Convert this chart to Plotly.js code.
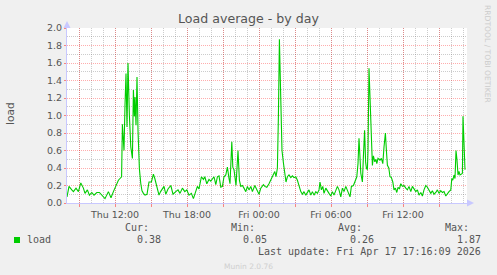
<!DOCTYPE html>
<html>
<head>
<meta charset="utf-8">
<script src="https://cdn.plot.ly/plotly-3.0.1.min.js"></script>
<style>
html,body{margin:0;padding:0;background:#f0f0f0;}
#chart{width:497px;height:275px;}
</style>
</head>
<body>
<div id="chart"></div>
<script>
// ---- data ----
// minutes since Thu 2026-04-16 08:00 (5-minute samples)
const minutes = [
0,10,24,32,45,57,69,82,90,102,112,124,135,149,162,174,190,207,220,232,245,257,265,273,277,285,290,295,300,305,312,319,327,332,337,340,345,350,355,362,369,375,382,390,400,410,422,432,439,449,460,468,477,
485,494,505,519,530,544,555,565,577,589,599,610,622,632,644,652,660,672,682,689,699,710,719,727,735,744,752,760,769,777,785,794,802,810,815,824,829,835,840,845,855,862,869,877,885,894,902,910,919,927,939,949,960,969,982,989,999,
1010,1022,1030,1039,1045,1052,1057,1062,1069,1075,1082,1089,1095,1102,1110,1119,1127,1135,1144,1152,1160,1169,1177,1185,1194,1202,1210,1219,1227,1235,1244,1252,1260,1265,1272,1279,1285,1294,1302,1310,1319,1327,1335,1344,1352,1360,1369,1377,1385,1394,1402,1410,1415,1422,1432,1439,1449,1455,1460,1469,1477,1482,1488,1493,1497,1502,1505,1510,1517,1522,1527,1532,1539,1545,1549,1555,1565,1572,1579,1585,1592,1597,1602,1609,1615,1622,1629,1635,1642,1649,1655,1662,1669,1677,1685,1694,1702,1710,1719,1727,1735,1744,1752,1760,1769,1777,1785,1794,1802,1810,1819,1827,1835,1844,1852,1860,1869,1877,1885,1894,1902,1910,1919,1924,1929,1935,1940,1945,1950,1955,1960,1965,1972,1977,1980,1985,1990
];
const load = [
0.07,0.19,0.15,0.13,0.17,0.13,0.23,0.17,0.11,0.15,0.09,0.12,0.09,0.12,0.12,0.09,0.05,0.13,0.06,0.13,0.20,0.26,0.28,0.30,0.90,0.60,1.12,1.48,0.87,1.60,1.00,0.64,0.51,1.29,0.99,1.21,0.89,1.44,0.83,0.39,0.22,0.14,0.11,0.09,0.10,0.24,0.24,0.33,0.28,0.18,0.09,0.13,0.17,
0.19,0.10,0.16,0.20,0.10,0.13,0.15,0.11,0.17,0.13,0.15,0.09,0.11,0.05,0.15,0.19,0.16,0.30,0.27,0.30,0.22,0.27,0.25,0.28,0.30,0.21,0.30,0.31,0.18,0.19,0.30,0.32,0.41,0.28,0.22,0.70,0.41,0.38,0.30,0.20,0.60,0.26,0.19,0.20,0.17,0.13,0.19,0.15,0.19,0.13,0.20,0.15,0.10,0.17,0.21,0.19,0.18,
0.22,0.28,0.32,0.36,0.30,0.40,0.99,1.87,1.18,0.60,0.46,0.34,0.24,0.30,0.32,0.29,0.31,0.29,0.30,0.26,0.20,0.13,0.10,0.13,0.09,0.12,0.15,0.09,0.13,0.09,0.13,0.11,0.15,0.24,0.15,0.19,0.11,0.17,0.13,0.11,0.08,0.13,0.09,0.15,0.19,0.15,0.07,0.17,0.13,0.19,0.15,0.09,0.07,0.19,0.20,0.24,0.30,0.45,0.74,0.34,0.24,0.53,0.83,0.47,0.40,0.38,0.60,1.54,0.99,0.60,0.43,0.54,0.47,0.50,0.45,0.51,0.49,0.51,0.45,0.64,0.80,0.60,0.43,0.40,0.30,0.29,0.24,0.15,0.17,0.12,0.18,0.16,0.22,0.19,0.20,0.17,0.15,0.19,0.13,0.19,0.16,0.13,0.15,0.09,0.12,0.08,0.15,0.20,0.18,0.15,0.11,0.14,0.10,0.12,0.15,0.11,0.14,0.12,0.13,0.08,0.11,0.13,0.15,0.28,0.26,0.32,0.28,0.60,0.49,0.32,0.36,0.32,0.33,0.34,0.99,0.72,0.38
];
const seriesName = "load";
const startTime = Date.UTC(2026, 3, 16, 8, 0, 0);   // Thu 08:00
const endTime   = Date.UTC(2026, 3, 17, 17, 20, 0); // Fri 17:20
const tickLabels = ["", "Thu 12:00", "", "Thu 18:00", "", "Fri 00:00", "", "Fri 06:00", "", "Fri 12:00", ""];
const tickStart = Date.UTC(2026, 3, 16, 9, 0, 0);
const statLabels = ["Cur:", "Min:", "Avg:", "Max:"];
const statValues = ["0.38", "0.05", "0.26", "1.87"];
const lastUpdate = "Last update: Fri Apr 17 17:16:09 2026";
const chartTitle = "Load average - by day";
const yTitle = "load";
const footer = "Munin 2.0.76";
const watermark = "RRDTOOL / TOBI OETIKER";

// ---- helpers ----
function ds(ms){ return new Date(ms).toISOString().replace('T',' ').slice(0,19); }
const xs = minutes.map(m => ds(startTime + m*60000));
const tickvals = tickLabels.map((_, i) => ds(tickStart + i*3*3600000));

// plot geometry (px)
const L = 67, T = 28, W = 400, H = 175;
const px = x => (x - L) / W;
const py = y => (T + H - y) / H;

const grey = '#555555';
const mono = '"DejaVu Sans Mono", monospace';
const sans = '"DejaVu Sans", sans-serif';
const majorGrid = 'rgba(255,0,0,0.32)';
const minorGrid = 'rgba(120,120,120,0.38)';
const axisCol = '#c8c8ff';

const annotations = [];
function txt(text, x, y, xanchor, size, color, font, angle){
  annotations.push({text, xref:'paper', yref:'paper', x:px(x), y:py(y), xanchor, yanchor:'middle',
    showarrow:false, textangle: angle||0, borderpad:0,
    font:{family: font||mono, size: size||10, color: color||grey}});
}
txt(seriesName, 26, 239, 'left');
const statRight = [150, 256, 363, 470];
statLabels.forEach((s, i) => {
  txt(s, statRight[i], 227, 'right');
  txt(statValues[i], statRight[i] + 12, 239, 'right');
});
txt(lastUpdate, 482, 251, 'right');
txt(footer, 248, 266, 'center', 7.5, '#cfcfcf', sans);
txt(watermark, 488, 54, 'center', 7.6, '#cccccc', sans, 90);
txt(yTitle, 10, 114, 'center', 10.6, grey, sans, -90);

const shapes = [
  // legend colour box
  {type:'rect', xref:'paper', yref:'paper', x0:px(14), x1:px(20), y0:py(237), y1:py(243),
   fillcolor:'#00cc00', line:{width:0}},
  // axis arrows
  {type:'path', xref:'paper', yref:'paper',
   path:`M ${px(63.5)} ${py(28)} L ${px(70.5)} ${py(28)} L ${px(67)} ${py(21)} Z`,
   fillcolor:axisCol, line:{width:0}},
  {type:'path', xref:'paper', yref:'paper',
   path:`M ${px(467)} ${py(199.5)} L ${px(467)} ${py(206.5)} L ${px(474)} ${py(203)} Z`,
   fillcolor:axisCol, line:{width:0}}
];

const trace = {
  type:'scatter', mode:'lines', x: xs, y: load, name: seriesName,
  line:{color:'#00cc00', width:1.1}, hoverinfo:'skip'
};

const layout = {
  width:497, height:275,
  margin:{l:L, r:497-L-W, t:T, b:275-T-H, pad:0},
  paper_bgcolor:'#f0f0f0', plot_bgcolor:'#ffffff',
  showlegend:false,
  title:{text:chartTitle, x:0.5, xref:'container', xanchor:'center', y:1-19/275, yref:'container', yanchor:'middle',
    font:{family:sans, size:12.6, color:grey}},
  xaxis:{type:'date', range:[ds(startTime), ds(endTime)], fixedrange:true,
    tickmode:'array', tickvals:tickvals, ticktext:tickLabels,
    ticks:'outside', ticklen:3, tickcolor:'rgba(255,0,0,0.45)', tickwidth:1,
    showgrid:true, gridcolor:majorGrid, griddash:'1px,1px', gridwidth:1,
    minor:{tickmode:'linear', tick0:ds(startTime), dtick:3600000, showgrid:true, gridcolor:minorGrid, griddash:'1px,1px', gridwidth:1, ticks:''},
    showline:true, linecolor:axisCol, linewidth:1, zeroline:false,
    tickfont:{family:sans, size:9.5, color:grey}},
  yaxis:{range:[0,2], fixedrange:true, tickmode:'linear', tick0:0, dtick:0.2, tickformat:'.1f',
    ticks:'outside', ticklen:2, tickcolor:'rgba(255,0,0,0.45)', tickwidth:1,
    showgrid:true, gridcolor:majorGrid, griddash:'1px,1px', gridwidth:1,
    minor:{tickmode:'linear', tick0:0, dtick:0.1, showgrid:true, gridcolor:minorGrid, griddash:'1px,1px', gridwidth:1, ticks:''},
    showline:true, linecolor:axisCol, linewidth:1, zeroline:false,
    tickfont:{family:sans, size:9.5, color:grey}},
  annotations, shapes
};

Plotly.newPlot('chart', [trace], layout, {staticPlot:true, displayModeBar:false});
</script>
</body>
</html>
